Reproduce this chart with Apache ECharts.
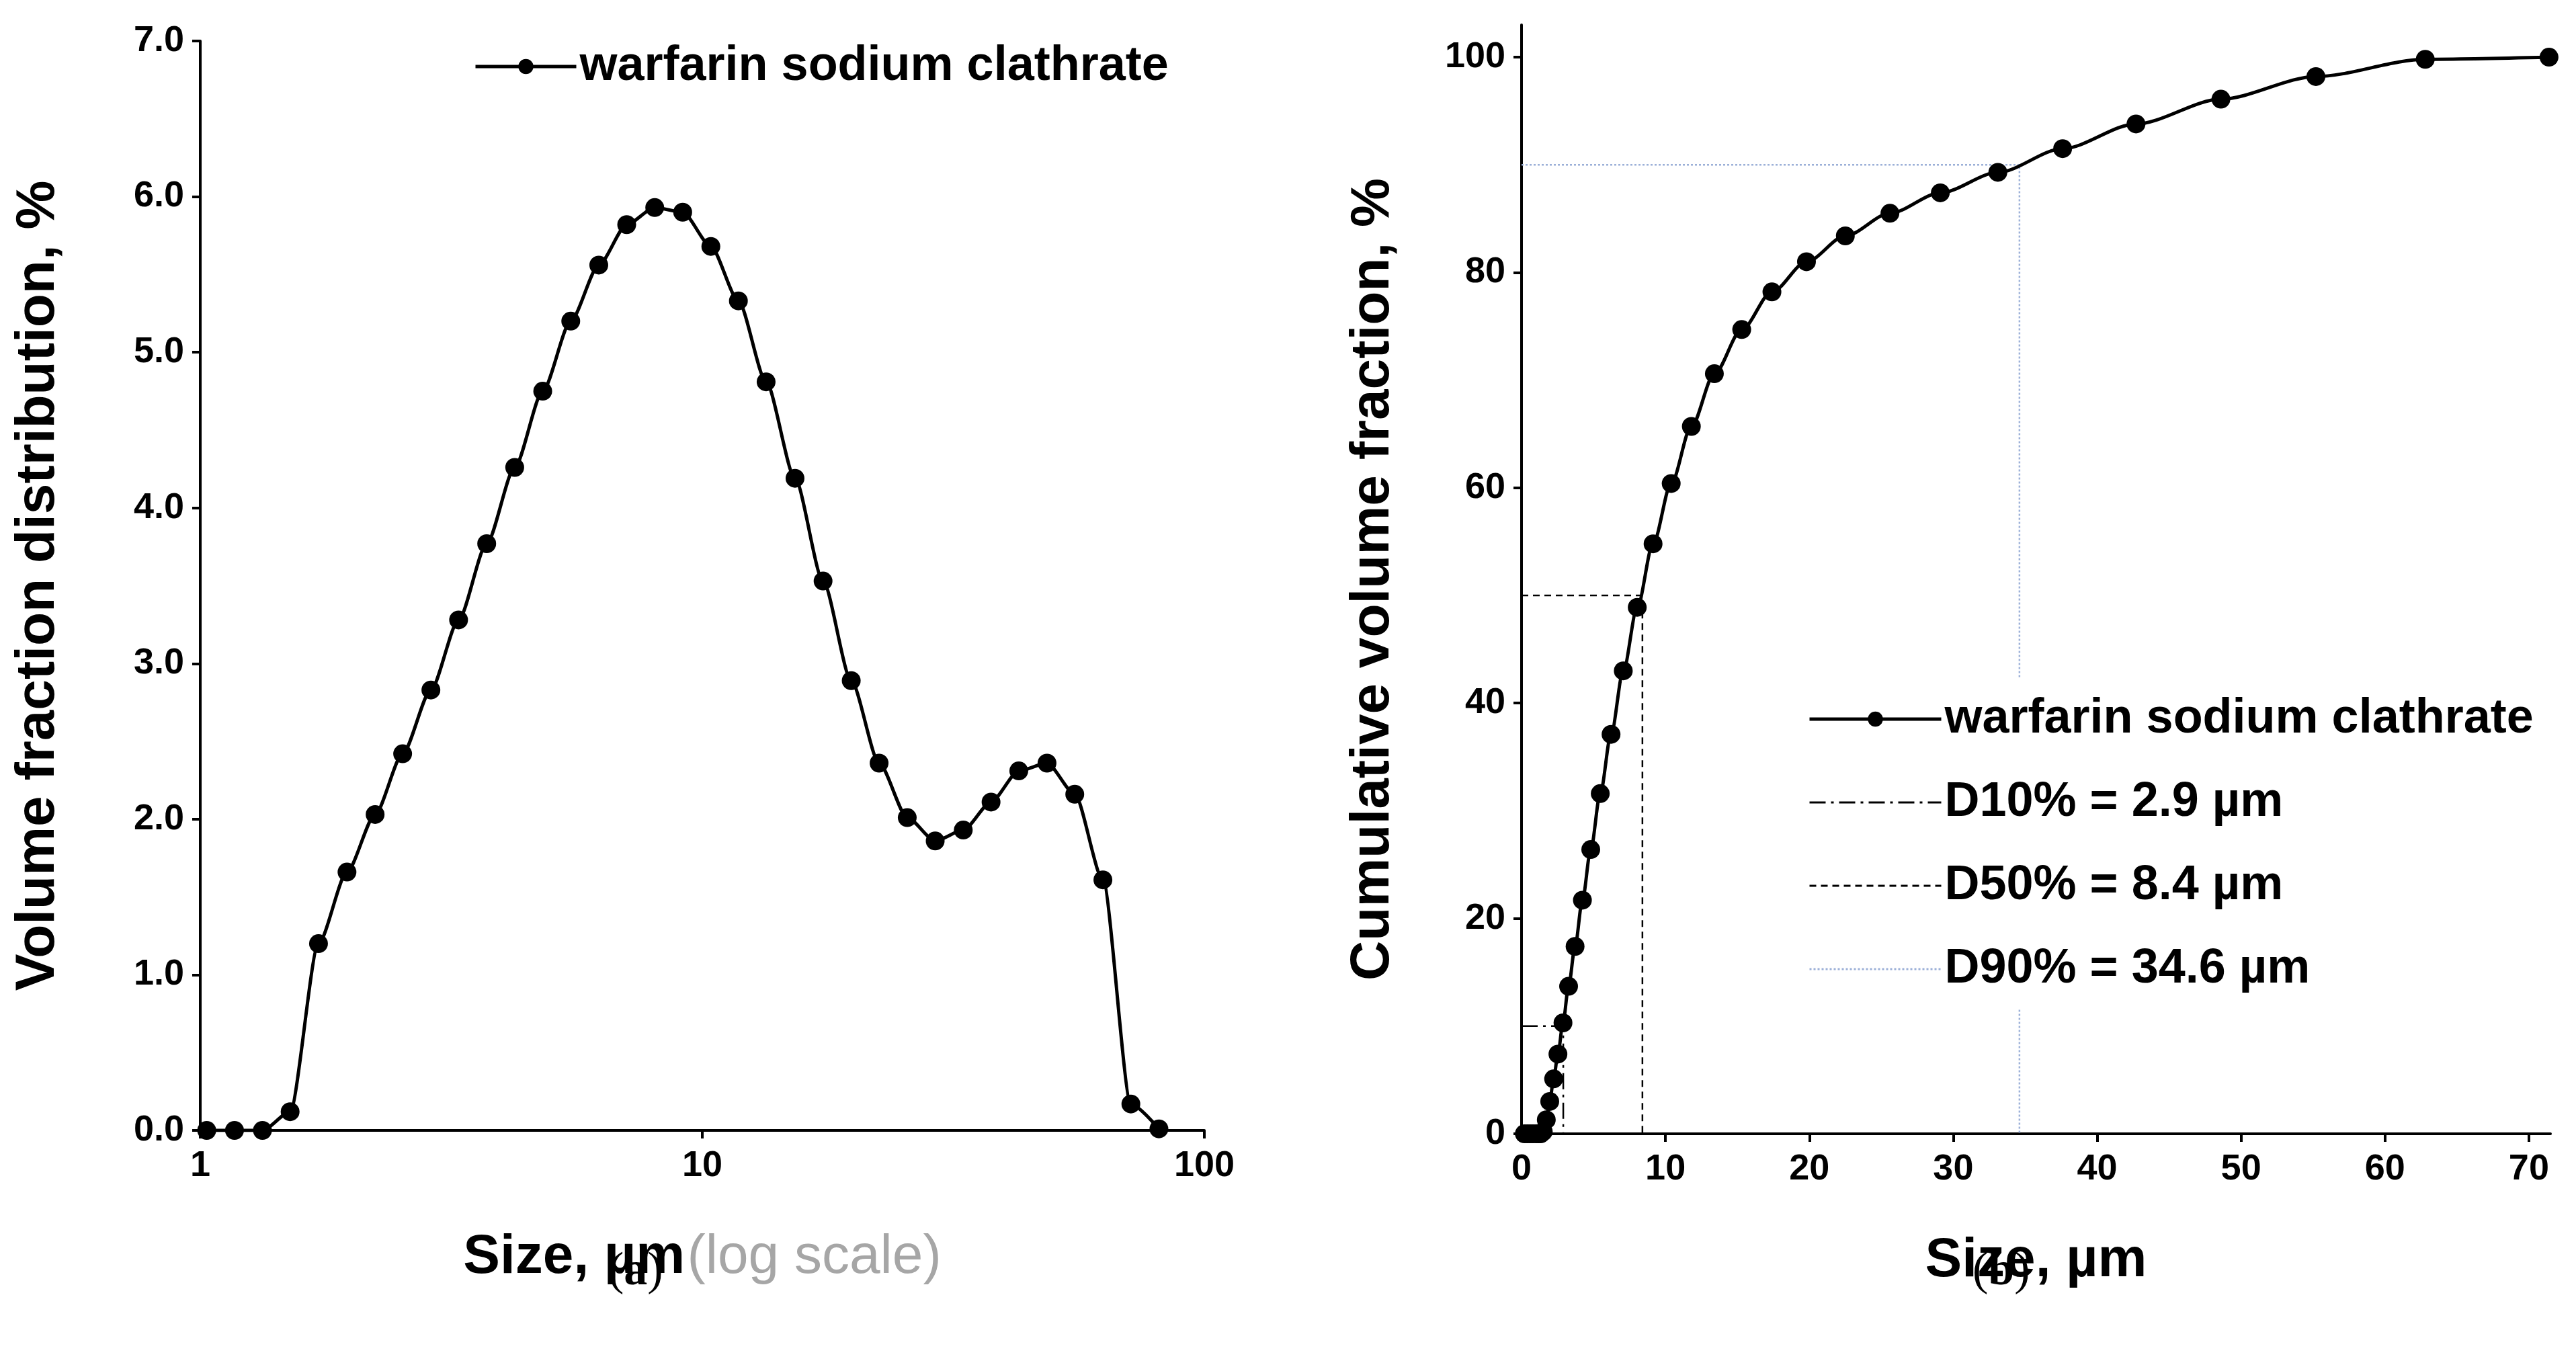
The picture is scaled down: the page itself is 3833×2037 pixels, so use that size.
<!DOCTYPE html>
<html><head><meta charset="utf-8">
<script src="https://cdn.jsdelivr.net/npm/echarts@6/dist/echarts.min.js"></script>
<style>html,body{margin:0;padding:0;background:#fff}#c{width:3833px;height:2037px}</style>
</head><body><div id="c"></div>
<script>
const sizes = [1.03,1.17,1.33,1.51,1.72,1.96,2.23,2.53,2.88,3.27,3.72,4.23,4.81,5.47,6.22,7.07,8.04,9.14,10.4,11.8,13.4,15.3,17.4,19.8,22.5,25.6,29.1,33.1,37.6,42.7,48.6,55.2,62.8,71.4,81.2];
const volFrac = [0,0,0,0.12,1.2,1.66,2.03,2.42,2.83,3.28,3.77,4.26,4.75,5.2,5.56,5.82,5.93,5.9,5.68,5.33,4.81,4.19,3.53,2.89,2.36,2.01,1.86,1.93,2.11,2.31,2.36,2.16,1.61,0.17,0.01];
const cumSizes = [0.2,0.4,0.6,0.8,1.03,1.17,1.33,1.51,1.72,1.96,2.23,2.53,2.88,3.27,3.72,4.23,4.81,5.47,6.22,7.07,8.04,9.14,10.4,11.8,13.4,15.3,17.4,19.8,22.5,25.6,29.1,33.1,37.6,42.7,48.6,55.2,62.8,71.4];
const cumFrac = [0,0,0,0,0,0,0,0.2,1.3,3.0,5.1,7.4,10.3,13.7,17.4,21.7,26.4,31.6,37.1,43.0,48.9,54.8,60.4,65.7,70.6,74.7,78.2,81.0,83.4,85.5,87.4,89.3,91.5,93.8,96.1,98.2,99.8,100];
const d10 = 2.9, d50 = 8.4, d90 = 34.6;
const leftYTicks = [0,1,2,3,4,5,6,7];

const F = 'Liberation Sans, Arial, sans-serif';
const chart = echarts.init(document.getElementById('c'));
const axLine = {show:true, lineStyle:{color:'#000', width:4}};
const tick = {show:true, length:12, lineStyle:{color:'#000', width:4}};
const lbl = {color:'#000', fontFamily:F, fontWeight:'bold', fontSize:54};
const titleStyle = {fontFamily:F,fontWeight:'bold',fontSize:82,color:'#000'};
const name = 'warfarin sodium clathrate';
const legText = {fontFamily:F, fontWeight:'bold', fontSize:72, color:'#000'};
const hidden = {color:'rgba(0,0,0,0)', borderWidth:0};
chart.setOption({
  animation:false,
  grid:[
    {left:298, top:61, width:1494, height:1621},
    {left:2264, top:37, width:1531, height:1650}
  ],
  legend:[
    {data:[{name:name, lineStyle:{width:5}}], left:700, top:58, itemWidth:150, itemHeight:28, textStyle:legText, selectedMode:false},
    {data:[{name:name, lineStyle:{width:5}},
           {name:'D10% = 2.9 µm', itemStyle:hidden, lineStyle:{width:3}},
           {name:'D50% = 8.4 µm', itemStyle:hidden, lineStyle:{width:3}},
           {name:'D90% = 34.6 µm', itemStyle:hidden, lineStyle:{width:3}}],
     orient:'vertical', left:2670, top:1010, itemWidth:196, itemHeight:28, itemGap:52, padding:[24,20,24,20],
     backgroundColor:'#fff', textStyle:legText, selectedMode:false}
  ],
  xAxis:[
    {gridIndex:0, type:'log', min:1, max:100, logBase:10, axisLine:axLine, axisTick:tick, splitLine:{show:false}, minorTick:{show:false},
     axisLabel:Object.assign({margin:26},lbl),
     name:'{b|Size, µm} {g|(log scale)}', nameLocation:'middle', nameGap:148,
     nameTextStyle:{rich:{b:titleStyle,g:{fontFamily:F,fontSize:82,color:'#a6a6a6'}}}},
    {gridIndex:1, type:'value', min:0, max:71.5, interval:10, axisLine:axLine, axisTick:tick, splitLine:{show:false},
     axisLabel:Object.assign({margin:26, showMaxLabel:false},lbl),
     name:'Size, µm', nameLocation:'middle', nameGap:148, nameTextStyle:titleStyle}
  ],
  yAxis:[
    {gridIndex:0, type:'value', min:0, max:7, interval:1, axisLine:axLine, axisTick:tick, splitLine:{show:false},
     axisLabel:Object.assign({margin:24, formatter:v=>leftYTicks.includes(v)?v.toFixed(1):''},lbl),
     name:'Volume fraction distribution, %', nameLocation:'middle', nameGap:200, nameTextStyle:titleStyle},
    {gridIndex:1, type:'value', min:0, max:103, interval:20, axisLine:axLine, axisTick:tick, splitLine:{show:false},
     axisLabel:Object.assign({margin:24, showMaxLabel:false},lbl),
     name:'Cumulative volume fraction, %', nameLocation:'middle', nameGap:180, nameTextStyle:titleStyle}
  ],
  series:[
    {name:name, type:'line', xAxisIndex:0, yAxisIndex:0, data:sizes.map((s,i)=>[s,volFrac[i]]), smooth:0.25, smoothMonotone:'x',
     symbol:'circle', symbolSize:28, itemStyle:{color:'#000'}, lineStyle:{color:'#000', width:5}, z:5},
    {name:'D10% = 2.9 µm', type:'line', xAxisIndex:1, yAxisIndex:1, data:[[0,10],[d10,10],[d10,0]], symbol:'none',
     lineStyle:{color:'#000', width:2.5, type:[24,8,4,8]}, itemStyle:{color:'#000'}},
    {name:'D50% = 8.4 µm', type:'line', xAxisIndex:1, yAxisIndex:1, data:[[0,50],[d50,50],[d50,0]], symbol:'none',
     lineStyle:{color:'#000', width:2.5, type:[10,7]}, itemStyle:{color:'#000'}},
    {name:'D90% = 34.6 µm', type:'line', xAxisIndex:1, yAxisIndex:1, data:[[0,90],[d90,90],[d90,0]], symbol:'none',
     lineStyle:{color:'#9bb0d8', width:2.5, type:[3,3]}, itemStyle:{color:'#9bb0d8'}},
    {name:name, type:'line', xAxisIndex:1, yAxisIndex:1, data:cumSizes.map((s,i)=>[s,cumFrac[i]]), smooth:0.3, smoothMonotone:'x',
     symbol:'circle', symbolSize:28, itemStyle:{color:'#000'}, lineStyle:{color:'#000', width:5}, z:5}
  ],
  graphic:[
    {type:'text', left:905, top:1858, style:{text:'({a|a})', rich:{a:{fontFamily:'Liberation Serif',fontWeight:'bold',fontSize:70,fill:'#000'}}, fontFamily:'Liberation Serif', fontSize:70, fill:'#000'}},
    {type:'text', left:2935, top:1858, style:{text:'({a|b})', rich:{a:{fontFamily:'Liberation Serif',fontWeight:'bold',fontSize:70,fill:'#000'}}, fontFamily:'Liberation Serif', fontSize:70, fill:'#000'}}
  ]
});
</script></body></html>
